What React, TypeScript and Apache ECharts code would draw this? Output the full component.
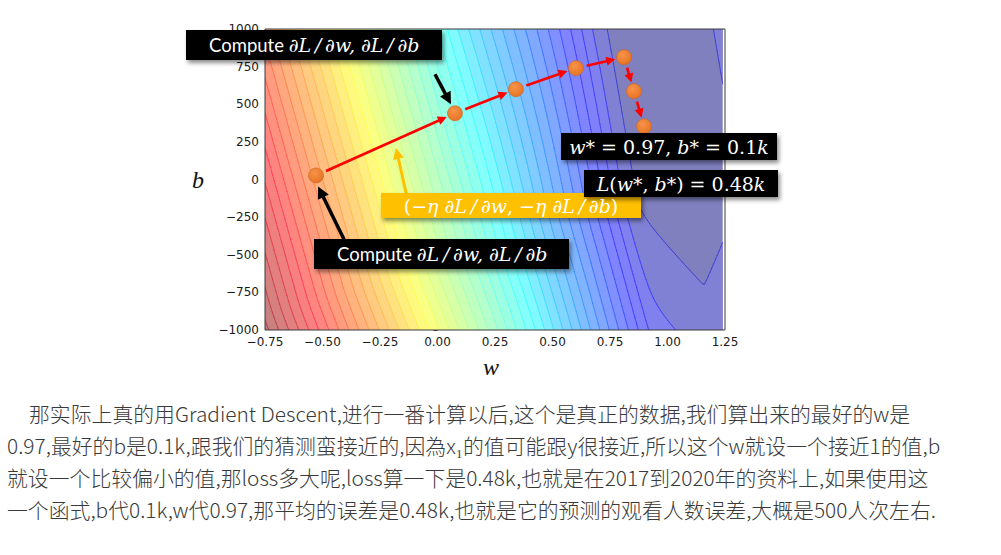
import React, { useEffect, useRef } from "react";
import * as echarts from "echarts";

// ---------- axes ----------
const W_MIN = -0.75;
const W_MAX = 1.25;
const W_STEP = 0.25;
const W_TICKS = [-0.75, -0.5, -0.25, 0, 0.25, 0.5, 0.75, 1, 1.25];
const W_TICK_LABELS = ["−0.75", "−0.50", "−0.25", "0.00", "0.25", "0.50", "0.75", "1.00", "1.25"];
const B_MIN = -1000;
const B_MAX = 1000;
const B_STEP = 250;
const B_TICKS = [-1000, -750, -500, -250, 0, 250, 500, 750, 1000];
const B_TICK_LABELS = ["−1000", "−750", "−500", "−250", "0", "250", "500", "750", "1000"];

// ---------- gradient-descent steps ----------
const STEP_W = [-0.528, 0.076, 0.341, 0.602, 0.811, 0.854, 0.898];
const STEP_B = [27, 440, 600, 740, 813, 587, 353];

// ---------- loss surface (valley shape) ----------
const VALLEY_W = 1.0935; // valley end region
const VALLEY_B = -113;
const TILT_NEAR = 0.17;
const TILT_FAR = 0.28;
const TILT_RAMP_START = 60;
const TILT_RAMP_LEN = 200;
const VALLEY_HALF_WIDTH = 56;
const VALLEY_FLOOR_SLOPE = 0.15;
const VALLEY_EDGE_SOFT = 6;
const VALLEY_END_SLOPE = 0.1;
const VALLEY_END_SOFT = 10;
const LEVEL_BASE = -0.2;
const LEVEL_STEP = 9.4;
const LEVEL_COUNT = 43;
const FIRST_BAND_POS = 0.04; // colour-scale position of the band just outside the valley
const COLOR_SHIFT = 2; // colour-scale offset of the outer bands
const ASPECT_W = 230; // plot aspect: screen units per unit of w
const ASPECT_B = 0.15; // screen units per unit of b
const FIELD_W_MAX = 1.24;

// ---------- text ----------
const TEXT_LINES = [
  "那实际上真的用Gradient Descent,进行一番计算以后,这个是真正的数据,我们算出来的最好的w是",
  "0.97,最好的b是0.1k,跟我们的猜测蛮接近的,因為x₁的值可能跟y很接近,所以这个w就设一个接近1的值,b",
  "就设一个比较偏小的值,那loss多大呢,loss算一下是0.48k,也就是在2017到2020年的资料上,如果使用这",
  "一个函式,b代0.1k,w代0.97,那平均的误差是0.48k,也就是它的预测的观看人数误差,大概是500人次左右.",
];

const softHinge = (x: number, s: number) => (x + Math.sqrt(x * x + s * s)) / 2;

function lossAt(w: number, b: number) {
  const dx = (w - VALLEY_W) * ASPECT_W;
  const dy = -(b - VALLEY_B) * ASPECT_B;
  const ramp = Math.min(1, Math.max(0, (Math.abs(dx) - TILT_RAMP_START) / TILT_RAMP_LEN));
  const sm = ramp * ramp * (3 - 2 * ramp);
  const s = TILT_NEAR + (TILT_FAR - TILT_NEAR) * sm;
  const nrm = Math.hypot(1, s);
  const u = (dx - s * dy) / nrm;
  const v = (s * dx + dy) / nrm;
  const au = Math.sqrt(u * u + 1);
  const hu = VALLEY_FLOOR_SLOPE * au + (1 - VALLEY_FLOOR_SLOPE) * softHinge(au - VALLEY_HALF_WIDTH, VALLEY_EDGE_SOFT);
  const hv = VALLEY_END_SLOPE * softHinge(v, VALLEY_END_SOFT);
  return hu + hv;
}

const LEVELS = Array.from({ length: LEVEL_COUNT }, (_, k) => LEVEL_BASE + k * LEVEL_STEP);

const NW = 250;
const NR = 150;
const dW = (FIELD_W_MAX - W_MIN) / NW;
const dB = (B_MAX - B_MIN) / NR;

// filled superlevel regions, one list of row-rects per level
const FILL: number[][][] = LEVELS.map(() => []);
for (let j = 0; j < NR; j++) {
  const bLo = B_MIN + j * dB;
  const bHi = bLo + dB;
  const bc = bLo + dB / 2;
  const z: number[] = [];
  for (let i = 0; i <= NW; i++) z.push(lossAt(W_MIN + i * dW, bc));
  LEVELS.forEach((L, k) => {
    let ia = -1;
    let ib = -1;
    for (let i = 0; i <= NW; i++) {
      if (z[i] < L) {
        if (ia < 0) ia = i;
        ib = i;
      }
    }
    if (ia < 0) {
      FILL[k].push([W_MIN, FIELD_W_MAX, bLo, bHi]);
      return;
    }
    if (ia > 0) {
      const t = (z[ia - 1] - L) / (z[ia - 1] - z[ia]);
      FILL[k].push([W_MIN, W_MIN + (ia - 1 + t) * dW, bLo, bHi]);
    }
    if (ib < NW) {
      const t = (L - z[ib]) / (z[ib + 1] - z[ib]);
      FILL[k].push([W_MIN + (ib + t) * dW, FIELD_W_MAX, bLo, bHi]);
    }
  });
}

// contour lines (marching squares)
const ZN: number[][] = [];
for (let j = 0; j <= NR; j++) {
  const row: number[] = [];
  for (let i = 0; i <= NW; i++) row.push(lossAt(W_MIN + i * dW, B_MIN + j * dB));
  ZN.push(row);
}
const SEGS: number[][] = LEVELS.map(() => []);
LEVELS.forEach((L, k) => {
  if (k === 0) return;
  const out = SEGS[k];
  for (let j = 0; j < NR; j++) {
    for (let i = 0; i < NW; i++) {
      const a = ZN[j][i], b = ZN[j][i + 1], c = ZN[j + 1][i + 1], d = ZN[j + 1][i];
      const mn = Math.min(a, b, c, d), mx = Math.max(a, b, c, d);
      if (mn >= L || mx < L) continue;
      const w0 = W_MIN + i * dW, w1 = w0 + dW, b0 = B_MIN + j * dB, b1 = b0 + dB;
      const pts: number[] = [];
      const edge = (za: number, zb: number, xa: number, ya: number, xb: number, yb: number) => {
        if ((za < L) !== (zb < L)) {
          const t = (L - za) / (zb - za);
          pts.push(xa + (xb - xa) * t, ya + (yb - ya) * t);
        }
      };
      edge(a, b, w0, b0, w1, b0);
      edge(b, c, w1, b0, w1, b1);
      edge(c, d, w1, b1, w0, b1);
      edge(d, a, w0, b1, w0, b0);
      if (pts.length >= 4) out.push(pts[0], pts[1], pts[2], pts[3]);
      if (pts.length >= 8) out.push(pts[4], pts[5], pts[6], pts[7]);
    }
  }
});

function jet(x: number) {
  const c = (v: number) => Math.max(0, Math.min(1, v));
  return [c(Math.min(4 * x - 1.5, -4 * x + 4.5)), c(Math.min(4 * x - 0.5, -4 * x + 3.5)), c(Math.min(4 * x + 0.5, -4 * x + 2.5))];
}
const colorPos = (k: number) =>
  k <= 0 ? 0 : k === 1 ? FIRST_BAND_POS : Math.min(1, (k + COLOR_SHIFT) / (LEVEL_COUNT - 1 + COLOR_SHIFT));
function bandFill(k: number) {
  const [r, g, b] = jet(colorPos(k));
  return `rgb(${Math.round(255 * (0.5 + 0.5 * r))},${Math.round(255 * (0.5 + 0.5 * g))},${Math.round(255 * (0.5 + 0.5 * b))})`;
}
function lineColor(k: number) {
  const [r, g, b] = jet((colorPos(k - 1) + colorPos(k)) / 2);
  const mix = (c: number) => Math.round(255 * (0.15 + 0.85 * c));
  return `rgba(${mix(r)},${mix(g)},${Math.round(255 * Math.min(1, b + 0.25))},0.55)`;
}

function arrowEls(x1: number, y1: number, x2: number, y2: number, color: string, lw: number, headLen: number, headHalf: number) {
  const dx = x2 - x1, dy = y2 - y1;
  const len = Math.hypot(dx, dy);
  const ux = dx / len, uy = dy / len;
  const bx = x2 - ux * headLen, by = y2 - uy * headLen;
  return [
    { type: "line", shape: { x1, y1, x2: bx + ux, y2: by + uy }, style: { stroke: color, lineWidth: lw }, z: 100 },
    {
      type: "polygon",
      shape: { points: [[x2, y2], [bx - uy * headHalf, by + ux * headHalf], [bx + uy * headHalf, by - ux * headHalf]] },
      style: { fill: color },
      z: 100,
    },
  ];
}

const f2 = (n: number) => n.toFixed(2);

export default function App() {
  const ref = useRef<HTMLDivElement>(null);
  useEffect(() => {
    const chart = echarts.init(ref.current!, null, { renderer: "svg" });
    const tickFmt = (ticks: number[], labels: string[]) => (v: number) => {
      const i = ticks.findIndex((t) => Math.abs(t - v) < 1e-6);
      return i >= 0 ? labels[i] : "";
    };
    chart.setOption({
      animation: false,
      grid: { left: 265, top: 29, width: 460, height: 301, show: false },
      xAxis: {
        type: "value",
        min: W_MIN,
        max: W_MAX,
        interval: W_STEP,
        axisLine: { show: false },
        axisTick: { show: true, length: 4, lineStyle: { color: "#333" } },
        axisLabel: { formatter: tickFmt(W_TICKS, W_TICK_LABELS), fontFamily: "DejaVu Sans", fontSize: 12, color: "#1a1a1a", margin: 6 },
        splitLine: { show: false },
      },
      yAxis: {
        type: "value",
        min: B_MIN,
        max: B_MAX,
        interval: B_STEP,
        axisLine: { show: false },
        axisTick: { show: true, length: 4, lineStyle: { color: "#333" } },
        axisLabel: { formatter: tickFmt(B_TICKS, B_TICK_LABELS), fontFamily: "DejaVu Sans", fontSize: 12, color: "#1a1a1a", margin: 6 },
        splitLine: { show: false },
      },
      series: [
        {
          type: "custom",
          name: "loss bands",
          clip: true,
          silent: true,
          z: 1,
          data: LEVELS.map((L) => [0, 0, L]),
          renderItem: (params: any, api: any) => {
            const k = params.dataIndex;
            let d = "";
            for (const r of FILL[k]) {
              const p0 = api.coord([r[0], r[3]]);
              const p1 = api.coord([r[1], r[2]]);
              d += `M${f2(p0[0])} ${f2(p0[1])}L${f2(p1[0])} ${f2(p0[1])}L${f2(p1[0])} ${f2(p1[1])}L${f2(p0[0])} ${f2(p1[1])}Z`;
            }
            return { type: "path", shape: { pathData: d }, style: { fill: bandFill(k), stroke: null } };
          },
        },
        {
          type: "custom",
          name: "loss contours",
          clip: true,
          silent: true,
          z: 2,
          data: LEVELS.map((L) => [0, 0, L]),
          renderItem: (params: any, api: any) => {
            const k = params.dataIndex;
            const s = SEGS[k];
            if (!s.length) return null;
            let d = "";
            for (let i = 0; i < s.length; i += 4) {
              const p = api.coord([s[i], s[i + 1]]);
              const q = api.coord([s[i + 2], s[i + 3]]);
              d += `M${f2(p[0])} ${f2(p[1])}L${f2(q[0])} ${f2(q[1])}`;
            }
            return { type: "path", shape: { pathData: d }, style: { fill: null, stroke: lineColor(k), lineWidth: 1, lineCap: "round" } };
          },
        },
        {
          type: "custom",
          name: "steps",
          clip: false,
          silent: true,
          z: 3,
          data: STEP_W.slice(0, -1).map((w, i) => [w, STEP_B[i]]),
          renderItem: (params: any, api: any) => {
            const i = params.dataIndex;
            const p = api.coord([STEP_W[i], STEP_B[i]]);
            const q = api.coord([STEP_W[i + 1], STEP_B[i + 1]]);
            const dx = q[0] - p[0], dy = q[1] - p[1];
            const len = Math.hypot(dx, dy);
            const ux = dx / len, uy = dy / len;
            const sx = p[0] + ux * 11, sy = p[1] + uy * 11;
            const tx = q[0] - ux * 9, ty = q[1] - uy * 9;
            const hl = 9, hh = 4.5;
            const bx = tx - ux * hl, by = ty - uy * hl;
            return {
              type: "group",
              children: [
                { type: "line", shape: { x1: sx, y1: sy, x2: bx + ux, y2: by + uy }, style: { stroke: "#ff0000", lineWidth: 2.6 } },
                {
                  type: "polygon",
                  shape: { points: [[tx, ty], [bx - uy * hh, by + ux * hh], [bx + uy * hh, by - ux * hh]] },
                  style: { fill: "#ff0000" },
                },
              ],
            };
          },
        },
        {
          type: "scatter",
          name: "points",
          z: 4,
          symbolSize: 15,
          data: STEP_W.map((w, i) => [w, STEP_B[i]]),
          itemStyle: {
            color: new echarts.graphic.RadialGradient(0.4, 0.35, 0.75, [
              { offset: 0, color: "#f7944a" },
              { offset: 1, color: "#e56f1f" },
            ]),
            borderColor: "#cc641c",
            borderWidth: 0.6,
            opacity: 1,
          },
        },
      ],
    });

    const px = (w: number, b: number) => chart.convertToPixel({ gridIndex: 0 }, [w, b]) as number[];
    const tl = px(W_MIN, B_MAX);
    const br = px(W_MAX, B_MIN);
    const p1 = px(STEP_W[0], STEP_B[0]);
    const p2 = px(STEP_W[1], STEP_B[1]);

    const shadow = { shadowBlur: 4, shadowOffsetX: 2, shadowOffsetY: 3, shadowColor: "rgba(0,0,0,0.45)" };
    const sansW = { fontFamily: "Lato", fontSize: 18.5, fill: "#ffffff", color: "#ffffff" };
    const mathI = { fontFamily: "DejaVu Serif", fontStyle: "italic", fontSize: 19, fill: "#ffffff", color: "#ffffff" };
    const mathN = { fontFamily: "DejaVu Serif", fontSize: 19, fill: "#ffffff", color: "#ffffff" };
    const TS = "\u2009";

    const graphic: any[] = [
      { type: "rect", shape: { x: tl[0], y: tl[1], width: br[0] - tl[0], height: br[1] - tl[1] }, style: { fill: null, stroke: "#3a3a3a", lineWidth: 1 }, z: 50 },
      { type: "text", x: 491, y: 367, style: { text: "w", fontFamily: "Liberation Serif", fontStyle: "italic", fontSize: 24, fill: "#111", textAlign: "center", textVerticalAlign: "middle" }, z: 50 },
      { type: "text", x: 198, y: 180, style: { text: "b", fontFamily: "Liberation Serif", fontStyle: "italic", fontSize: 24, fill: "#111", textAlign: "center", textVerticalAlign: "middle" }, z: 50 },

      // annotation arrows
      ...arrowEls(p1[0] + 29, p1[1] + 66, p1[0] + 2, p1[1] + 11, "#000000", 3.5, 12, 6),
      ...arrowEls(p2[0] - 20, p2[1] - 39, p2[0] - 4, p2[1] - 9, "#000000", 3.5, 12, 6),
      ...arrowEls(407, 197, 396, 148, "#ffc000", 3, 11, 5.5),

      // top box
      { type: "rect", shape: { x: 186, y: 30, width: 256, height: 30 }, style: { fill: "#050505", ...shadow }, z: 110 },
      {
        type: "text", x: 209, y: 45, z: 111,
        style: { text: `{a|Compute }{m|∂L${TS}/${TS}∂w, ∂L${TS}/${TS}∂b}`, rich: { a: sansW, m: mathI }, textAlign: "left", textVerticalAlign: "middle" },
      },
      // bottom box
      { type: "rect", shape: { x: 314, y: 239, width: 255, height: 30 }, style: { fill: "#050505", ...shadow }, z: 110 },
      {
        type: "text", x: 337, y: 254, z: 111,
        style: { text: `{a|Compute }{m|∂L${TS}/${TS}∂w, ∂L${TS}/${TS}∂b}`, rich: { a: sansW, m: mathI }, textAlign: "left", textVerticalAlign: "middle" },
      },
      // yellow box
      { type: "rect", shape: { x: 381, y: 193, width: 260, height: 25 }, style: { fill: "#ffc000", ...shadow }, z: 110 },
      {
        type: "text", x: 511, y: 206, z: 111,
        style: {
          text: `{n|(−}{m|η ∂L${TS}/${TS}∂w}{n|, −}{m|η ∂L${TS}/${TS}∂b}{n|)}`,
          rich: { n: mathN, m: mathI },
          textAlign: "center", textVerticalAlign: "middle",
        },
      },
      // w*, b*
      { type: "rect", shape: { x: 561, y: 133, width: 216, height: 27 }, style: { fill: "#050505", ...shadow }, z: 110 },
      {
        type: "text", x: 669, y: 147, z: 111,
        style: {
          text: "{m|w}{n|* = 0.97, }{m|b}{n|* = 0.1}{m|k}",
          rich: { n: mathN, m: mathI },
          textAlign: "center", textVerticalAlign: "middle",
        },
      },
      // L(w*, b*)
      { type: "rect", shape: { x: 584, y: 170, width: 194, height: 27 }, style: { fill: "#050505", ...shadow }, z: 110 },
      {
        type: "text", x: 681, y: 184, z: 111,
        style: {
          text: "{m|L}{n|(}{m|w}{n|*, }{m|b}{n|*) = 0.48}{m|k}",
          rich: { n: mathN, m: mathI },
          textAlign: "center", textVerticalAlign: "middle",
        },
      },
      // paragraph
      ...TEXT_LINES.map((t, i) => ({
        type: "text",
        x: i === 0 ? 29 : 7,
        y: 413 + i * 32,
        z: 50,
        style: { text: t, fontFamily: "Noto Sans CJK SC", fontWeight: 300, fontSize: 20.85, fill: "#3a3a3a", textAlign: "left", textVerticalAlign: "middle" },
      })),
    ];
    chart.setOption({ graphic });
    return () => chart.dispose();
  }, []);
  return <div ref={ref} style={{ position: "absolute", left: 0, top: 0, width: 1001, height: 555 }} />;
}
